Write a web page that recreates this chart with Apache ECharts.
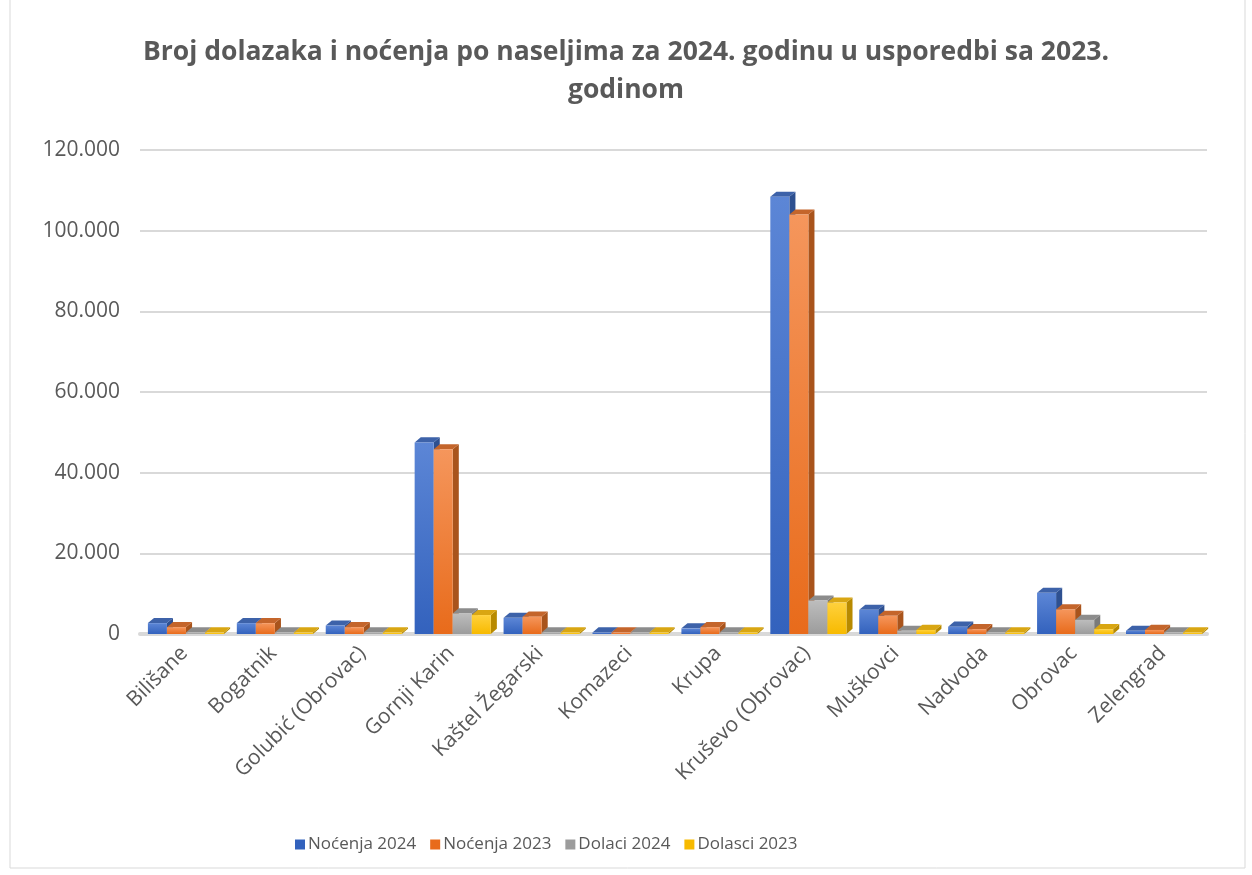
<!DOCTYPE html>
<html>
<head>
<meta charset="utf-8">
<script src="https://cdn.jsdelivr.net/npm/echarts@6/dist/echarts.min.js"></script>
<style>html,body{margin:0;padding:0;background:#fff}#c{width:1252px;height:875px}</style>
</head>
<body>
<div id="c"></div>
<script>
var categories = ['Bilišane','Bogatnik','Golubić (Obrovac)','Gornji Karin','Kaštel Žegarski','Komazeci','Krupa','Kruševo (Obrovac)','Muškovci','Nadvoda','Obrovac','Zelengrad'];
var seriesNames = ['Noćenja 2024','Noćenja 2023','Dolaci 2024','Dolasci 2023'];
var nocenja2024 = [2700, 2700, 2100, 47500, 4000, 300, 1400, 108400, 6000, 1800, 10200, 800];
var nocenja2023 = [1700, 2700, 1700, 45800, 4300, 300, 1700, 104000, 4500, 1200, 6100, 1000];
var dolaci2024  = [150, 150, 150, 5100, 150, 100, 150, 8300, 800, 150, 3500, 150];
var dolasci2023 = [150, 150, 150, 4700, 150, 100, 150, 7800, 1000, 150, 1200, 150];
var yTicks = [0, 20000, 40000, 60000, 80000, 100000, 120000];

var allValues = [nocenja2024, nocenja2023, dolaci2024, dolasci2023];
var palettes = [
  {top:'#5c86d6', bot:'#3362bd', side:'#2e5090', cap:'#3d62a9'},
  {top:'#f5965c', bot:'#e86b1b', side:'#a9541c', cap:'#c4652b'},
  {top:'#bdbdbd', bot:'#9c9c9c', side:'#7a7a7a', cap:'#8c8c8c'},
  {top:'#ffd13d', bot:'#f7ba00', side:'#b88a00', cap:'#d9a612'}
];

function makeRender(si){
  return function(params, api){
    var ci = api.value(0), v = api.value(1);
    var base = api.coord([ci, 0]);
    var top = api.coord([ci, v]);
    var band = api.size([1, 0])[0];
    var bw = band * 0.214;
    var dx = bw * 0.32, dy = bw * 0.27;
    var x0 = base[0] - 2 * bw + 1.5 + si * bw;
    var x1 = x0 + bw;
    var yb = base[1], yt = Math.min(top[1], yb - 1.5);
    var p = palettes[si];
    return {
      type: 'group',
      children: [
        {type:'polygon', shape:{points:[[x1,yt],[x1+dx,yt-dy],[x1+dx,yb-dy],[x1,yb]]}, style:{fill:p.side}},
        {type:'polygon', shape:{points:[[x0,yt],[x0+dx,yt-dy],[x1+dx,yt-dy],[x1,yt]]}, style:{fill:p.cap}},
        {type:'rect', shape:{x:x0, y:yt, width:bw, height:yb-yt}, style:{fill:new echarts.graphic.LinearGradient(0,0,0,1,[{offset:0,color:p.top},{offset:1,color:p.bot}])}}
      ]
    };
  };
}

var series = seriesNames.map(function(name, si){
  return {
    name: name,
    type: 'custom',
    renderItem: makeRender(si),
    encode: {x: 0, y: 1},
    itemStyle: {color: palettes[si].bot},
    data: allValues[si].map(function(v, i){ return [i, v]; }),
    z: 2 + si
  };
});

function fmt(v){
  if (v === 0) return '0';
  var s = String(v);
  return s.replace(/\B(?=(\d{3})+(?!\d))/g, '.');
}

var chart = echarts.init(document.getElementById('c'));
chart.setOption({
  animation: false,
  textStyle: {fontFamily: 'Open Sans'},
  graphic: [{type:'rect', shape:{x:10, y:-2, width:1235, height:870}, style:{fill:'none', stroke:'#d9d9d9', lineWidth:1}, silent:true, z:-1}],
  title: {
    text: 'Broj dolazaka i noćenja po naseljima za 2024. godinu u usporedbi sa 2023.\ngodinom',
    left: 'center', top: 28,
    textStyle: {fontFamily:'Open Sans', fontWeight:'bold', fontSize:26.5, color:'#595959', lineHeight:38}
  },
  legend: {
    left: 290, top: 831,
    icon: 'rect', itemWidth: 10, itemHeight: 10, itemGap: 14,
    textStyle: {fontFamily:'Open Sans', fontSize:17, color:'#595959', padding:[0,0,0,-2]},
    data: seriesNames
  },
  grid: {left: 140, right: 45, top: 150, bottom: 241, containLabel: false},
  xAxis: {
    type: 'category', data: categories,
    axisTick: {show: false},
    axisLine: {lineStyle: {color: '#d9d9d9', width: 4}},
    axisLabel: {rotate: 45, fontSize: 21, color: '#595959', margin: 16, interval: 0, fontFamily:'Open Sans'}
  },
  yAxis: {
    type: 'value', min: 0, max: 120000, interval: 20000,
    axisLine: {show: false}, axisTick: {show: false},
    splitLine: {lineStyle: {color: '#d9d9d9', width: 2}},
    axisLabel: {fontSize: 21, color: '#595959', margin: 20, fontFamily:'Open Sans', formatter: fmt}
  },
  series: series
});
</script>
</body>
</html>
